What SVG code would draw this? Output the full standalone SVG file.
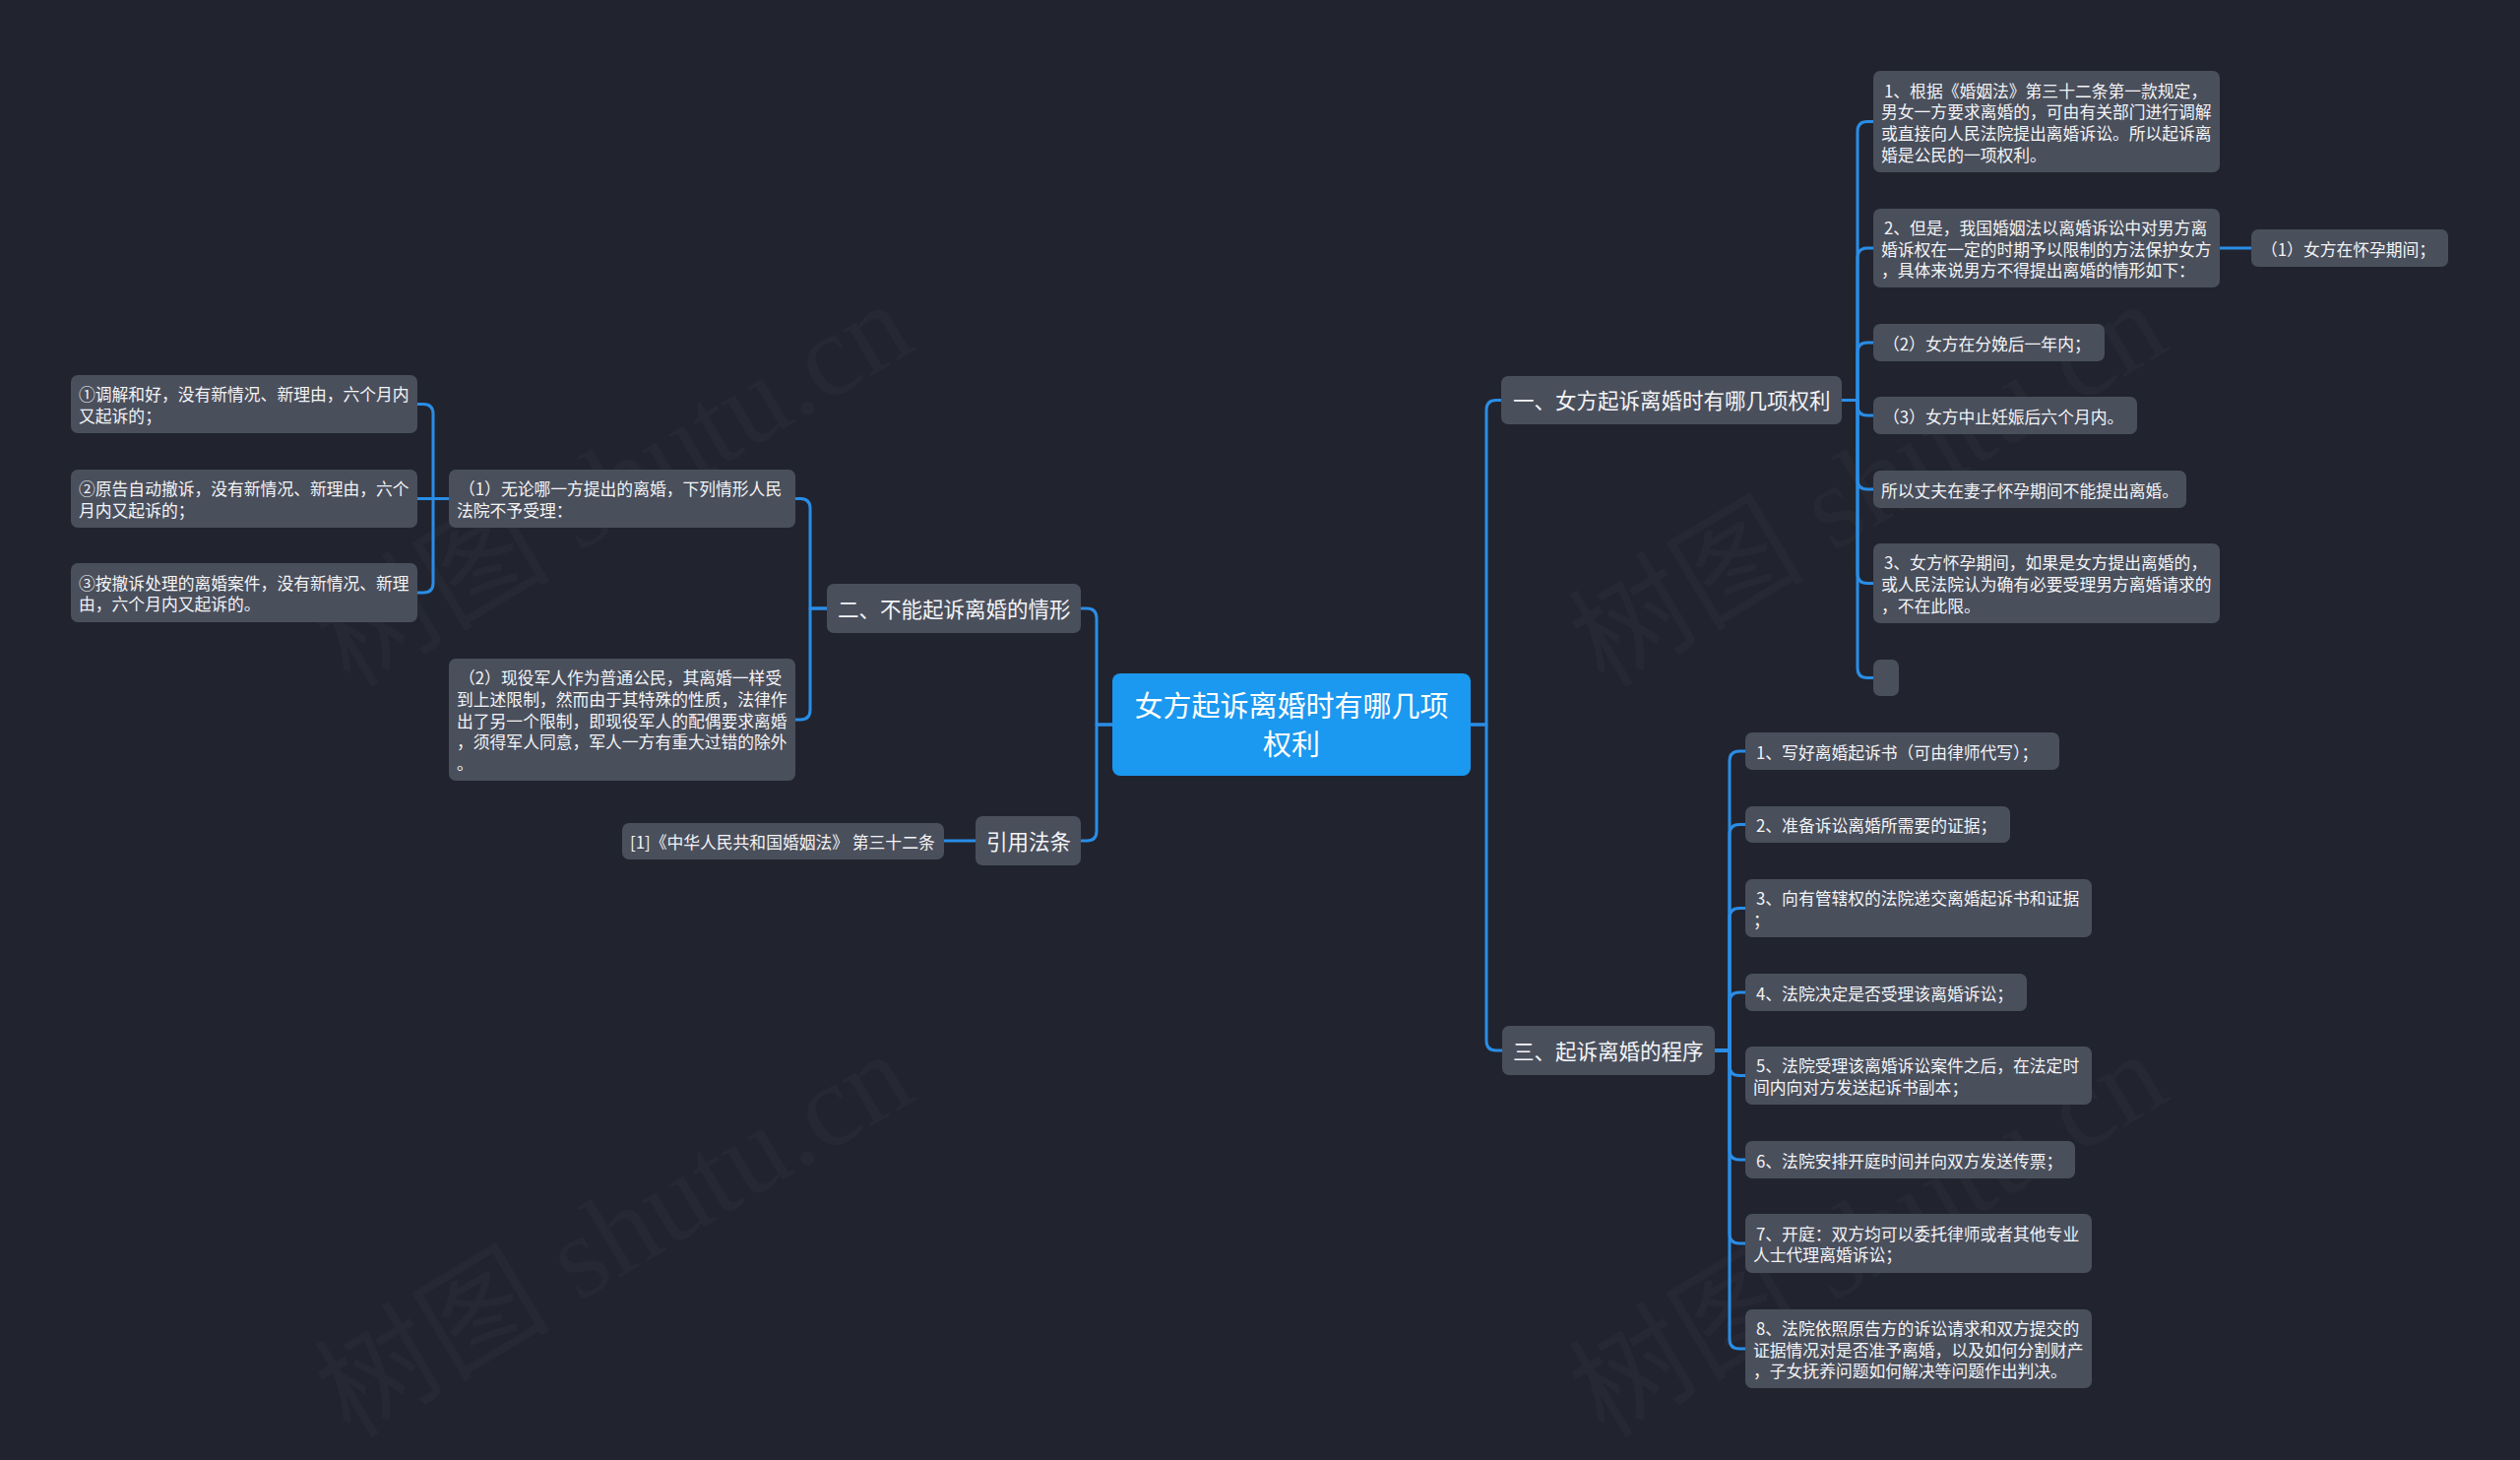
<svg xmlns="http://www.w3.org/2000/svg" width="2560" height="1483" viewBox="0 0 2560 1483">
<style>
.n{fill:#4a4f5c}
.t{font-family:"Noto Sans CJK SC","Noto Sans",sans-serif;font-size:16.8px;fill:#f3f4f6}
.tb{font-family:"Noto Sans CJK SC","Noto Sans",sans-serif;font-size:21.5px;fill:#f3f4f6}
.tc{font-family:"Noto Sans CJK SC","Noto Sans",sans-serif;font-size:29px;fill:#ffffff}
.c{stroke:#2a8de6;stroke-width:3;fill:none;stroke-linejoin:round}
.wm{font-family:"Liberation Serif","Noto Sans CJK SC",serif;font-size:120px;fill:#ffffff;fill-opacity:0.025}
</style>
<rect x="0" y="0" width="2560" height="1483" fill="#21242f"/>
<g id="watermarks">
<text class="wm" transform="translate(356,700) rotate(-31)">树图 shutu.cn</text>
<text class="wm" transform="translate(1630,700) rotate(-31)">树图 shutu.cn</text>
<text class="wm" transform="translate(356,1462) rotate(-31)">树图 shutu.cn</text>
<text class="wm" transform="translate(1630,1462) rotate(-31)">树图 shutu.cn</text>
</g>
<g id="connectors">
<path class="c" d="M1494,736 H1510 V416.5 Q1510,406.5 1520,406.5 H1525"/>
<path class="c" d="M1494,736 H1510 V1057 Q1510,1067 1520,1067 H1526"/>
<path class="c" d="M1130,736 H1114 V628 Q1114,618 1104,618 H1098"/>
<path class="c" d="M1130,736 H1114 V844 Q1114,854 1104,854 H1098"/>
<path class="c" d="M991,854 H959"/>
<path class="c" d="M1871,406.5 H1887 V133.5 Q1887,123.5 1897,123.5 H1903"/>
<path class="c" d="M1871,406.5 H1887 V262 Q1887,252 1897,252 H1903"/>
<path class="c" d="M1871,406.5 H1887 V358 Q1887,348 1897,348 H1903"/>
<path class="c" d="M1871,406.5 H1887 V412 Q1887,422 1897,422 H1903"/>
<path class="c" d="M1871,406.5 H1887 V487 Q1887,497 1897,497 H1903"/>
<path class="c" d="M1871,406.5 H1887 V582.5 Q1887,592.5 1897,592.5 H1903"/>
<path class="c" d="M1871,406.5 H1887 V678.5 Q1887,688.5 1897,688.5 H1903"/>
<path class="c" d="M2255,252 H2287"/>
<path class="c" d="M1742,1067 H1757 V773 Q1757,763 1767,763 H1773"/>
<path class="c" d="M1742,1067 H1757 V847.5 Q1757,837.5 1767,837.5 H1773"/>
<path class="c" d="M1742,1067 H1757 V932.5 Q1757,922.5 1767,922.5 H1773"/>
<path class="c" d="M1742,1067 H1757 V1018 Q1757,1008 1767,1008 H1773"/>
<path class="c" d="M1742,1067 H1757 V1082.5 Q1757,1092.5 1767,1092.5 H1773"/>
<path class="c" d="M1742,1067 H1757 V1168 Q1757,1178 1767,1178 H1773"/>
<path class="c" d="M1742,1067 H1757 V1253 Q1757,1263 1767,1263 H1773"/>
<path class="c" d="M1742,1067 H1757 V1360 Q1757,1370 1767,1370 H1773"/>
<path class="c" d="M840,618 H823 V516.5 Q823,506.5 813,506.5 H808"/>
<path class="c" d="M840,618 H823 V721 Q823,731 813,731 H808"/>
<path class="c" d="M456,506.5 H440 V420.5 Q440,410.5 430,410.5 H424"/>
<path class="c" d="M456,506.5 H424"/>
<path class="c" d="M456,506.5 H440 V592 Q440,602 430,602 H424"/>
</g>
<g id="root">
<rect x="1130" y="684" width="364" height="104" rx="8" fill="#1b98ef"/>
<text class="tc" x="1312" y="728" text-anchor="middle">女方起诉离婚时有哪几项</text>
<text class="tc" x="1312" y="766.5" text-anchor="middle">权利</text>
</g>
<g id="b1">
<rect class="n" x="1525" y="382" width="346" height="49" rx="7"/>
<text class="tb" x="1537" y="415">一、女方起诉离婚时有哪几项权利</text>
</g>
<g id="b2">
<rect class="n" x="840" y="593" width="258" height="50" rx="7"/>
<text class="tb" x="851" y="626.5">二、不能起诉离婚的情形</text>
</g>
<g id="b3">
<rect class="n" x="991" y="829" width="107" height="50" rx="7"/>
<text class="tb" x="1002" y="862.5">引用法条</text>
</g>
<g id="b4">
<rect class="n" x="1526" y="1042" width="216" height="50" rx="7"/>
<text class="tb" x="1537" y="1075.5">三、起诉离婚的程序</text>
</g>
<g id="c1">
<rect class="n" x="1903" y="72" width="352" height="103" rx="7"/>
<text class="t" x="1914" y="98.5">1、根据《婚姻法》第三十二条第一款规定，</text>
<text class="t" x="1911" y="120.2">男女一方要求离婚的，可由有关部门进行调解</text>
<text class="t" x="1911" y="141.9">或直接向人民法院提出离婚诉讼。所以起诉离</text>
<text class="t" x="1911" y="163.6">婚是公民的一项权利。</text>
</g>
<g id="c2">
<rect class="n" x="1903" y="212" width="352" height="80" rx="7"/>
<text class="t" x="1914" y="237.8">2、但是，我国婚姻法以离婚诉讼中对男方离</text>
<text class="t" x="1911" y="259.5">婚诉权在一定的时期予以限制的方法保护女方</text>
<text class="t" x="1911" y="281.2">，具体来说男方不得提出离婚的情形如下：</text>
</g>
<g id="c2a">
<rect class="n" x="2287" y="233" width="200" height="38" rx="7"/>
<text class="t" x="2297" y="259.5">（1）女方在怀孕期间；</text>
</g>
<g id="c3">
<rect class="n" x="1903" y="329" width="235" height="38" rx="7"/>
<text class="t" x="1913" y="355.5">（2）女方在分娩后一年内；</text>
</g>
<g id="c4">
<rect class="n" x="1903" y="403" width="268" height="38" rx="7"/>
<text class="t" x="1913" y="429.5">（3）女方中止妊娠后六个月内。</text>
</g>
<g id="c5">
<rect class="n" x="1903" y="478" width="318" height="38" rx="7"/>
<text class="t" x="1911" y="504.5">所以丈夫在妻子怀孕期间不能提出离婚。</text>
</g>
<g id="c6">
<rect class="n" x="1903" y="552" width="352" height="81" rx="7"/>
<text class="t" x="1914" y="578.3">3、女方怀孕期间，如果是女方提出离婚的，</text>
<text class="t" x="1911" y="600">或人民法院认为确有必要受理男方离婚请求的</text>
<text class="t" x="1911" y="621.7">，不在此限。</text>
</g>
<g id="c7">
<rect class="n" x="1903" y="670" width="26" height="37" rx="7"/>
</g>
<g id="d1">
<rect class="n" x="1773" y="744" width="319" height="38" rx="7"/>
<text class="t" x="1784" y="770.5">1、写好离婚起诉书（可由律师代写）；</text>
</g>
<g id="d2">
<rect class="n" x="1773" y="819" width="269" height="37" rx="7"/>
<text class="t" x="1784" y="845">2、准备诉讼离婚所需要的证据；</text>
</g>
<g id="d3">
<rect class="n" x="1773" y="893" width="352" height="59" rx="7"/>
<text class="t" x="1784" y="919.2">3、向有管辖权的法院递交离婚起诉书和证据</text>
<text class="t" x="1781" y="940.9">；</text>
</g>
<g id="d4">
<rect class="n" x="1773" y="989" width="286" height="38" rx="7"/>
<text class="t" x="1784" y="1015.5">4、法院决定是否受理该离婚诉讼；</text>
</g>
<g id="d5">
<rect class="n" x="1773" y="1063" width="352" height="59" rx="7"/>
<text class="t" x="1784" y="1089.2">5、法院受理该离婚诉讼案件之后，在法定时</text>
<text class="t" x="1781" y="1110.9">间内向对方发送起诉书副本；</text>
</g>
<g id="d6">
<rect class="n" x="1773" y="1159" width="335" height="38" rx="7"/>
<text class="t" x="1784" y="1185.5">6、法院安排开庭时间并向双方发送传票；</text>
</g>
<g id="d7">
<rect class="n" x="1773" y="1233" width="352" height="60" rx="7"/>
<text class="t" x="1784" y="1259.7">7、开庭：双方均可以委托律师或者其他专业</text>
<text class="t" x="1781" y="1281.4">人士代理离婚诉讼；</text>
</g>
<g id="d8">
<rect class="n" x="1773" y="1330" width="352" height="80" rx="7"/>
<text class="t" x="1784" y="1355.8">8、法院依照原告方的诉讼请求和双方提交的</text>
<text class="t" x="1781" y="1377.5">证据情况对是否准予离婚，以及如何分割财产</text>
<text class="t" x="1781" y="1399.2">，子女抚养问题如何解决等问题作出判决。</text>
</g>
<g id="e1">
<rect class="n" x="456" y="477" width="352" height="59" rx="7"/>
<text class="t" x="466" y="503.2">（1）无论哪一方提出的离婚，下列情形人民</text>
<text class="t" x="464" y="524.9">法院不予受理：</text>
</g>
<g id="e2">
<rect class="n" x="456" y="669" width="352" height="124" rx="7"/>
<text class="t" x="466" y="695.1">（2）现役军人作为普通公民，其离婚一样受</text>
<text class="t" x="464" y="716.8">到上述限制，然而由于其特殊的性质，法律作</text>
<text class="t" x="464" y="738.5">出了另一个限制，即现役军人的配偶要求离婚</text>
<text class="t" x="464" y="760.2">，须得军人同意，军人一方有重大过错的除外</text>
<text class="t" x="464" y="781.9">。</text>
</g>
<g id="f1">
<rect class="n" x="72" y="381" width="352" height="59" rx="7"/>
<text class="t" x="80" y="407.2">①调解和好，没有新情况、新理由，六个月内</text>
<text class="t" x="80" y="428.9">又起诉的；</text>
</g>
<g id="f2">
<rect class="n" x="72" y="477" width="352" height="59" rx="7"/>
<text class="t" x="80" y="503.2">②原告自动撤诉，没有新情况、新理由，六个</text>
<text class="t" x="80" y="524.9">月内又起诉的；</text>
</g>
<g id="f3">
<rect class="n" x="72" y="572" width="352" height="60" rx="7"/>
<text class="t" x="80" y="598.7">③按撤诉处理的离婚案件，没有新情况、新理</text>
<text class="t" x="80" y="620.4">由，六个月内又起诉的。</text>
</g>
<g id="g1">
<rect class="n" x="632" y="836" width="327" height="37" rx="7"/>
<text class="t" x="640" y="862">[1]《中华人民共和国婚姻法》 第三十二条</text>
</g>
</svg>
